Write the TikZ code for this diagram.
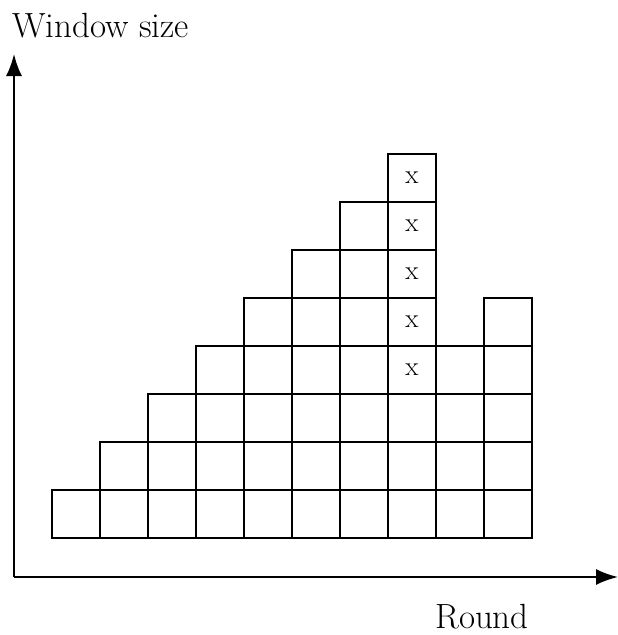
\documentclass[tikz,border=0pt]{standalone}
\usetikzlibrary{arrows.meta}
\begin{document}
\begin{tikzpicture}[x=1pt,y=-1pt,
  cell/.style={draw=black,line width=1.6pt,minimum width=48pt,minimum height=48pt,inner sep=0pt,anchor=north west},
  axis/.style={line width=2pt,-{Latex[length=22pt,width=16pt]}},
  lab/.style={font=\fontsize{35}{40}\selectfont,inner sep=0pt}]
\useasboundingbox (0,0) rectangle (618,635);
% columns: heights
\foreach \c/\h in {0/1,1/2,2/3,3/4,4/5,5/6,6/7,7/8,8/4,9/5}{
  \foreach \r in {1,...,\h}{
    \node[cell] (c\c r\r) at ({51+48*\c},{537-48*\r}) {};
  }
}
\foreach \r in {4,...,8}{
  \node[font=\fontsize{27}{30}\selectfont] (x\r) at (c7r\r.center) {x};
}
\coordinate (o) at (14,577);
\coordinate (ytip) at (14,54);
\coordinate (xtip) at (618,577);
\draw[axis] (o) -- (ytip);
\draw[axis] (o) -- (xtip);
\node[lab,anchor=base west] (ylab) at (12,37) {Window size};
\node[lab,anchor=base west] (xlab) at (435,628) {Round};
\end{tikzpicture}
\end{document}
